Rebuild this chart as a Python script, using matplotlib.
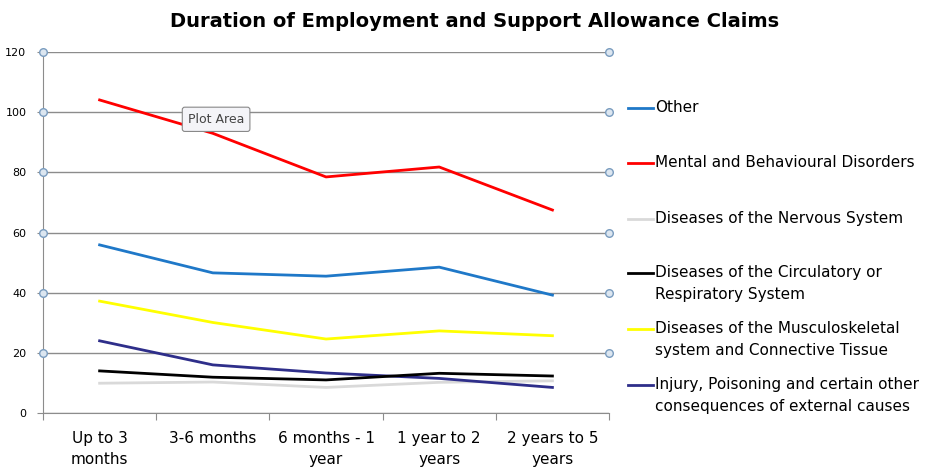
import matplotlib.pyplot as plt
from matplotlib.lines import Line2D

plt.rcParams['font.family'] = ['DejaVu Sans']

categories = ["Up to 3\nmonths", "3-6 months", "6 months - 1\nyear",
              "1 year to 2\nyears", "2 years to 5\nyears"]

series_names = [
    "Other",
    "Mental and Behavioural Disorders",
    "Diseases of the Nervous System",
    "Diseases of the Circulatory or\nRespiratory System",
    "Diseases of the Musculoskeletal\nsystem and Connective Tissue",
    "Injury, Poisoning and certain other\nconsequences of external causes",
]
other = [55.9, 46.6, 45.5, 48.5, 39.2]
mental = [104.1, 93.0, 78.5, 81.8, 67.5]
nervous = [9.9, 10.3, 8.5, 10.2, 10.7]
circulatory = [14.0, 11.9, 11.0, 13.2, 12.3]
musculo = [37.2, 30.1, 24.6, 27.3, 25.7]
injury = [24.0, 16.0, 13.3, 11.5, 8.5]
yticks = [0, 20, 40, 60, 80, 100, 120]

series = [other, mental, nervous, circulatory, musculo, injury]
colors = ["#1F78C8", "#FF0000", "#D9D9D9", "#000000", "#FFFF00", "#2E2E8A"]

fig = plt.figure(figsize=(9.39, 4.74), dpi=100)
ax = fig.add_axes([0.0458, 0.1287, 0.6028, 0.7613])

x = list(range(len(categories)))
# draw light series first so darker ones sit on top
order = [2, 4, 0, 1, 5, 3]
for i in order:
    ax.plot(x, series[i], color=colors[i], lw=2, solid_joinstyle='round')

ax.set_xlim(-0.5, len(categories) - 0.5)
ax.set_ylim(0, 120)
ax.set_yticks(yticks)
ax.set_yticklabels([str(v) for v in yticks], fontsize=8)
ax.yaxis.grid(True, color="#8C8C8C", lw=1)
ax.set_axisbelow(True)

ax.set_xticks([v + 0.5 for v in range(-1, len(categories))], minor=False)
ax.set_xticklabels([])
ax.tick_params(axis='x', length=5, color="#8C8C8C", direction='out')
ax.tick_params(axis='y', length=4, color="#8C8C8C", pad=8)
for i, lab in enumerate(categories):
    ax.text(i, -6, lab, ha='center', va='top', fontsize=11,
            transform=ax.transData, linespacing=1.5)

for s in ['top', 'right']:
    ax.spines[s].set_visible(False)
for s in ['left', 'bottom']:
    ax.spines[s].set_color("#8C8C8C")

# selection handles on both vertical sides
for xv in [-0.5, len(categories) - 0.5]:
    ax.scatter([xv] * 6, yticks[1:], s=30, facecolor="#DCE6F0",
               edgecolor="#7A9CBF", lw=1, zorder=5, clip_on=False)

ax.text(0.78, 96.5, "Plot Area", fontsize=9, color="#444444", zorder=6,
        bbox=dict(boxstyle="round,pad=0.45,rounding_size=0.2", fc="#F4F4F8",
                  ec="#888888", lw=0.8))

fig.text(0.505, 0.955, "Duration of Employment and Support Allowance Claims",
         ha='center', va='center', fontsize=14, fontweight='bold')

# legend
leg_y = [108, 163, 219, 273, 329, 385]
for i, name in enumerate(series_names):
    yy = 1 - leg_y[i] / 474
    fig.add_artist(Line2D([628 / 939, 653 / 939], [yy, yy], color=colors[i], lw=2))
    fig.text(655 / 939, yy + 0.016, name, ha='left', va='top', fontsize=11,
             linespacing=1.55)

fig.savefig("out.png", dpi=100)
